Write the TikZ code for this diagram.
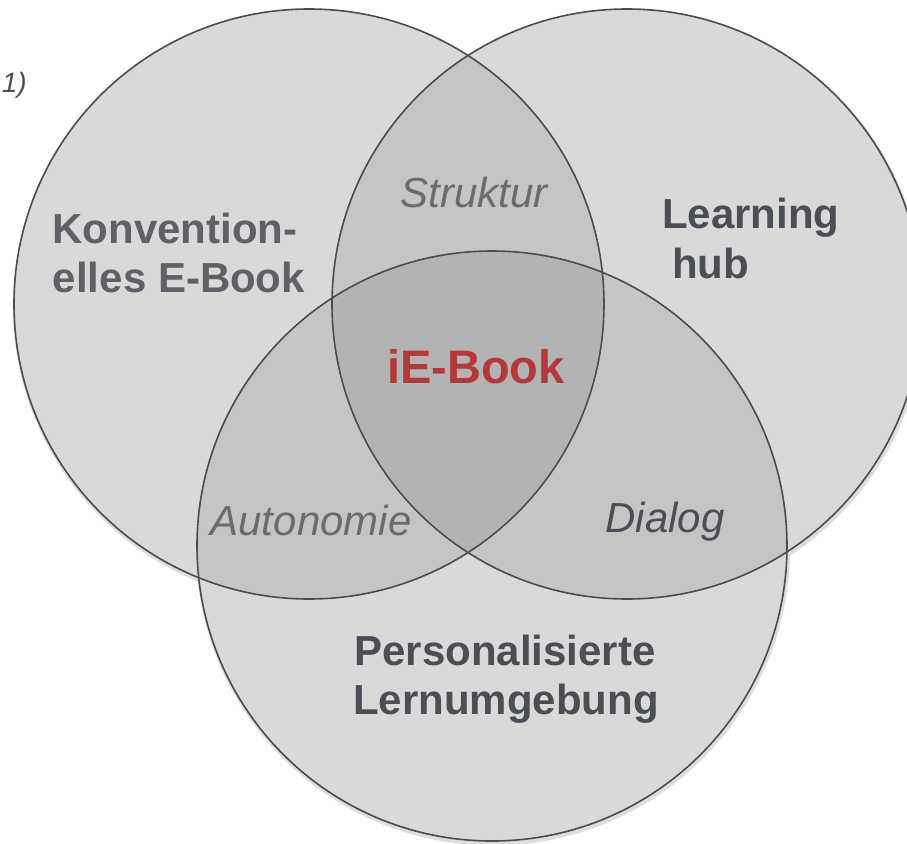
\documentclass[tikz,border=0pt]{standalone}
\usepackage{fontspec}
\setmainfont{Liberation Sans}
\definecolor{sglfill}{RGB}{217,217,217}
\definecolor{dblfill}{RGB}{197,197,197}
\definecolor{trpfill}{RGB}{179,179,179}
\definecolor{ringc}{RGB}{75,76,82}
\definecolor{darklab}{RGB}{75,78,85}
\definecolor{midlab}{RGB}{96,97,102}
\definecolor{itlab}{RGB}{107,107,112}
\definecolor{redlab}{RGB}{181,57,59}
\begin{document}
\begin{tikzpicture}[x=0.75pt,y=-0.75pt,
  ring/.style={draw=ringc, line width=1.2pt},
  softshadow/.style={draw=black!13, line width=3pt},
  lab/.style={font=\fontsize{31.5}{36}\selectfont\bfseries, inner sep=0pt, anchor=base},
  itl/.style={font=\fontsize{31.5}{36}\selectfont\itshape, inner sep=0pt, anchor=base}]
\useasboundingbox (0,0) rectangle (907,843);
\coordinate (L) at (309,304);
\coordinate (R) at (627,304);
\coordinate (B) at (492,546);
% soft shadows
\foreach \c in {L,R,B}
  \draw[softshadow] ([shift={(1,2.5)}]\c) circle[radius=295];
% single fills
\foreach \c in {L,R,B}
  \fill[fill=sglfill] (\c) circle[radius=295];
% double overlaps
\begin{scope}
  \clip (L) circle[radius=295];
  \fill[fill=dblfill] (R) circle[radius=295];
  \fill[fill=dblfill] (B) circle[radius=295];
\end{scope}
\begin{scope}
  \clip (R) circle[radius=295];
  \fill[fill=dblfill] (B) circle[radius=295];
\end{scope}
% triple overlap
\begin{scope}
  \clip (L) circle[radius=295];
  \clip (R) circle[radius=295];
  \fill[fill=trpfill] (B) circle[radius=295];
\end{scope}
% outlines
\foreach \c in {L,R,B}
  \draw[ring] (\c) circle[radius=295];
% labels
\node[font=\fontsize{21}{24}\selectfont\itshape, text=darklab, inner sep=0pt, anchor=base east] (num) at (27,92) {1)};
\node[lab, text=midlab] (konv1) at (175,243) {Konvention-};
\node[lab, text=midlab] (konv2) at (179,292) {elles E-Book};
\node[lab, text=darklab, anchor=base west] (learn1) at (662,228) {Learning};
\node[lab, text=darklab, anchor=base west] (learn2) at (672,278) {hub};
\node[lab, text=darklab] (pers1) at (505,665) {Personalisierte};
\node[lab, text=darklab] (pers2) at (506,714) {Lernumgebung};
\node[itl, text=itlab] (strukt) at (474,207) {Struktur};
\node[itl, text=itlab] (auto) at (311,535) {Autonomie};
\node[itl, text=darklab] (dialog) at (665,532) {Dialog};
\node[font=\fontsize{35.25}{40}\selectfont\bfseries, text=redlab, inner sep=0pt, anchor=base] (ie) at (476,383) {iE-Book};
\end{tikzpicture}
\end{document}
